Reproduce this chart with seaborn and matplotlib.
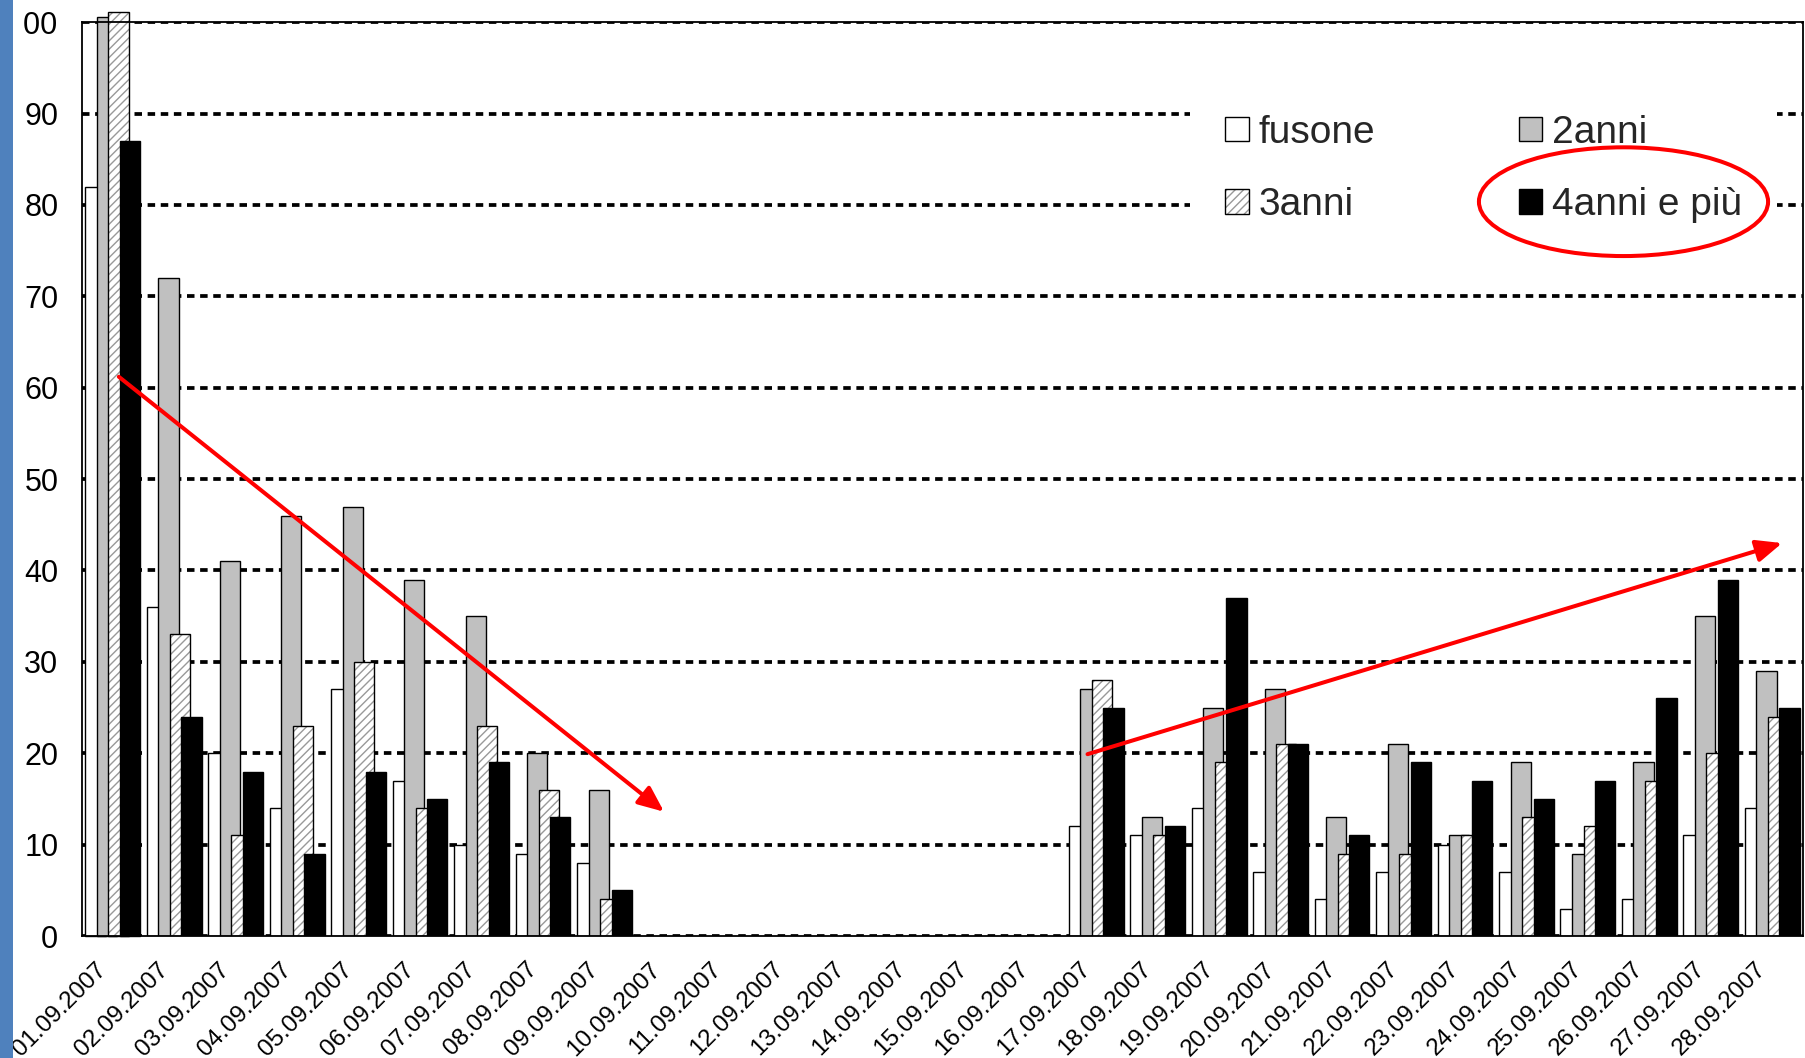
import numpy as np
import pandas as pd
import seaborn as sns
import matplotlib.pyplot as plt
import matplotlib.transforms as mtransforms
from matplotlib.patches import Patch, Ellipse, Rectangle

# Data
dates = ['01.09.2007', '02.09.2007', '03.09.2007', '04.09.2007', '05.09.2007',
         '06.09.2007', '07.09.2007', '08.09.2007', '09.09.2007', '10.09.2007',
         '11.09.2007', '12.09.2007', '13.09.2007', '14.09.2007', '15.09.2007',
         '16.09.2007', '17.09.2007', '18.09.2007', '19.09.2007', '20.09.2007',
         '21.09.2007', '22.09.2007', '23.09.2007', '24.09.2007', '25.09.2007',
         '26.09.2007', '27.09.2007', '28.09.2007']
series = ['fusone', '2anni', '3anni', '4anni e più']

fusone = [82, 36, 20, 14, 27, 17, 10, 9, 8, 0, 0, 0, 0, 0, 0, 0,
          12, 11, 14, 7, 4, 7, 10, 7, 3, 4, 11, 14]
anni2 = [100.6, 72, 41, 46, 47, 39, 35, 20, 16, 0, 0, 0, 0, 0, 0, 0,
         27, 13, 25, 27, 13, 21, 11, 19, 9, 19, 35, 29]
anni3 = [101.1, 33, 11, 23, 30, 14, 23, 16, 4, 0, 0, 0, 0, 0, 0, 0,
         28, 11, 19, 21, 9, 9, 11, 13, 12, 17, 20, 24]
anni4 = [87, 24, 18, 9, 18, 15, 19, 13, 5, 0, 0, 0, 0, 0, 0, 0,
         25, 12, 37, 21, 11, 19, 17, 15, 17, 26, 39, 25]

# trend arrows (start, end) in data coords
arrow_down = [(0.1, 61.2), (8.97, 13.6)]
arrow_up = [(15.86, 19.9), (27.16, 43.0)]

df = pd.DataFrame({
    'date': dates * 4,
    'series': [series[0]] * 28 + [series[1]] * 28 + [series[2]] * 28 + [series[3]] * 28,
    'value': fusone + anni2 + anni3 + anni4,
})

sns.set_style('white')
plt.rcParams['font.family'] = ['Liberation Sans', 'DejaVu Sans']
plt.rcParams['hatch.linewidth'] = 1.0

colors = {'fusone': 'white', '2anni': '#C0C0C0', '3anni': 'white', '4anni e più': 'black'}
hatch_gray = (0.6, 0.6, 0.6, 1)

fig, ax = plt.subplots(figsize=(18.05, 10.58), dpi=100)
fig.subplots_adjust(left=0.0454, right=0.9989, bottom=0.1153, top=0.979)

sns.barplot(data=df, x='date', y='value', hue='series', hue_order=series,
            order=dates, palette=colors, saturation=1, width=0.75, gap=-0.76,
            edgecolor='black', linewidth=1.0, legend=False, ax=ax)

# hatch for 3anni
for p in ax.containers[2]:
    p.set_hatch('////')
    p._hatch_color = hatch_gray
# first group bars poke above the frame; empty days have no outline
for c in ax.containers:
    c.patches[0].set_clip_on(False)
    for p in c.patches:
        if p.get_height() == 0:
            p.set_linewidth(0)

ax.set_ylim(0, 100)
ax.set_xlim(-0.5, 27.5)
ax.set_yticks(range(0, 101, 10))
ax.set_xticks(range(len(dates)))
ax.set_xticklabels(dates, rotation=45, ha='right', va='top', rotation_mode='anchor')
ax.set_xticks(np.arange(-0.5, len(dates), 1), minor=True)
ax.set_xlabel('')
ax.set_ylabel('')

ax.yaxis.grid(True, color='black', linestyle=(0, (2.0, 1.5)), linewidth=2.7)
ax.set_axisbelow(True)

ax.tick_params(axis='y', labelsize=22, length=7, width=1.2, direction='out', pad=10, colors='black')
ax.tick_params(axis='x', which='major', labelsize=17.5, length=0, pad=16, colors='black')
ax.tick_params(axis='x', which='minor', length=5.5, width=1.2, direction='out', color='black')
for s in ax.spines.values():
    s.set_visible(True)
    s.set_color('black')
    s.set_linewidth(1.3)

# legend
h_f = Patch(facecolor='white', edgecolor='black', linewidth=1.0)
h_2 = Patch(facecolor='#C0C0C0', edgecolor='black', linewidth=1.0)
h_3 = Patch(facecolor='white', edgecolor='black', linewidth=1.0, hatch='////')
h_4 = Patch(facecolor='black', edgecolor='black', linewidth=1.0)
leg = ax.legend([h_f, h_3, h_2, h_4], ['fusone', '3anni', '2anni', '4anni e più'],
                ncol=2, loc='upper left', bbox_to_anchor=(0.644, 0.937),
                fontsize=28, frameon=True, framealpha=1, facecolor='white',
                edgecolor='none', fancybox=False, handlelength=0.6, handleheight=0.6,
                handletextpad=0.25, columnspacing=3.7, labelspacing=0.93,
                borderpad=0.9, borderaxespad=0)
for p in leg.get_patches():
    if p.get_hatch():
        p._hatch_color = hatch_gray

# red highlight ellipse and trend arrows
ax.add_patch(Ellipse((0.8957, 0.8036), 0.168, 0.119, transform=ax.transAxes,
                     fill=False, edgecolor='red', linewidth=2.9, clip_on=False, zorder=7))
for start, end in [arrow_down, arrow_up]:
    ax.annotate('', xy=end, xytext=start,
                arrowprops=dict(arrowstyle='-|>,head_length=0.65,head_width=0.28',
                                color='red', lw=2.9, shrinkA=0, shrinkB=0,
                                mutation_scale=24), zorder=7)

# shift date labels a little left, like the original
offset = mtransforms.ScaledTranslation(-0.17, 0, fig.dpi_scale_trans)
for lbl in ax.get_xticklabels():
    lbl.set_transform(lbl.get_transform() + offset)

# the original cuts the y labels at the left (the "1" of 100 is hidden)
clip = mtransforms.TransformedBbox(mtransforms.Bbox([[23.5 / 1805, 0], [1, 1]]), fig.transFigure)
for lbl in ax.get_yticklabels():
    lbl.set_clip_box(clip)
    lbl.set_clip_on(True)

# blue strip on the left edge
fig.add_artist(Rectangle((0, 0), 13 / 1805, 1, transform=fig.transFigure,
                         facecolor='#4F81BD', edgecolor='none', zorder=10))

fig.savefig('out.png', dpi=100)
